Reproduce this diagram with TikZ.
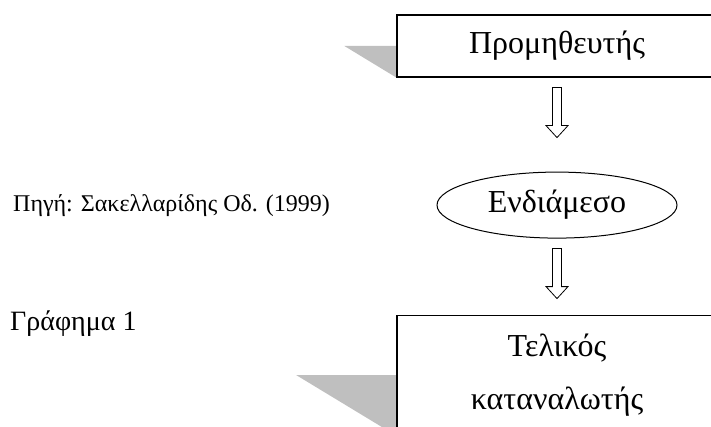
\documentclass[tikz,border=0pt]{standalone}
\usepackage{fontspec}
\setmainfont{Liberation Serif}
\usetikzlibrary{shapes.geometric, positioning, backgrounds}
\tikzstyle{entity} = [rectangle, minimum width=320pt, text centered, align=center, draw=black, line width=1.2pt, fill=white, inner sep=0pt, font=\fontsize{32}{53}\selectfont]
\tikzstyle{intermediary} = [ellipse, minimum width=240pt, minimum height=66pt, draw=black, line width=1pt, fill=white, inner sep=0pt, font=\fontsize{32}{38}\selectfont]
\tikzstyle{note} = [inner sep=0pt, anchor=base west]
\tikzstyle{shadow} = [fill=black!25]
\tikzset{hollow/.pic={\draw[line width=0.8pt] (-4.5,0) -- (-4.5,-38) -- (-11,-38) -- (0,-50) -- (11,-38) -- (4.5,-38) -- (4.5,0) -- cycle;}}

\begin{document}
\begin{tikzpicture}[x=1pt, y=1pt, node distance=10pt]

% Bounding box
\useasboundingbox (0,0) rectangle (711,-427);
\clip (0,0) rectangle (711,-427);

\node (sup) [entity, minimum height=62pt] at (557,-46) {Προμηθευτής};
\node (mid) [intermediary, below=94pt of sup] {Ενδιάμεσο};
\node (cons) [entity, minimum height=120pt, below=76pt of mid] {Τελικός\\καταναλωτής};

\coordinate [below=of sup] (arr1);
\coordinate [below=of mid] (arr2);
\pic at (arr1) {hollow};
\pic at (arr2) {hollow};

\begin{scope}[on background layer]
\fill [shadow] (sup.west) -- ++(-52,0) -- (sup.south west) -- cycle;
\fill [shadow] (cons.west) -- ++(-100,0) -- (cons.south west) -- cycle;
\end{scope}

\node (src) [note, font=\fontsize{24}{28}\selectfont] at (13,-212) {Πηγή: Σακελλαρίδης Οδ. (1999)};
\node (fig) [note, font=\fontsize{28}{32}\selectfont] at (10,-330) {Γράφημα 1};

\end{tikzpicture}
\end{document}
